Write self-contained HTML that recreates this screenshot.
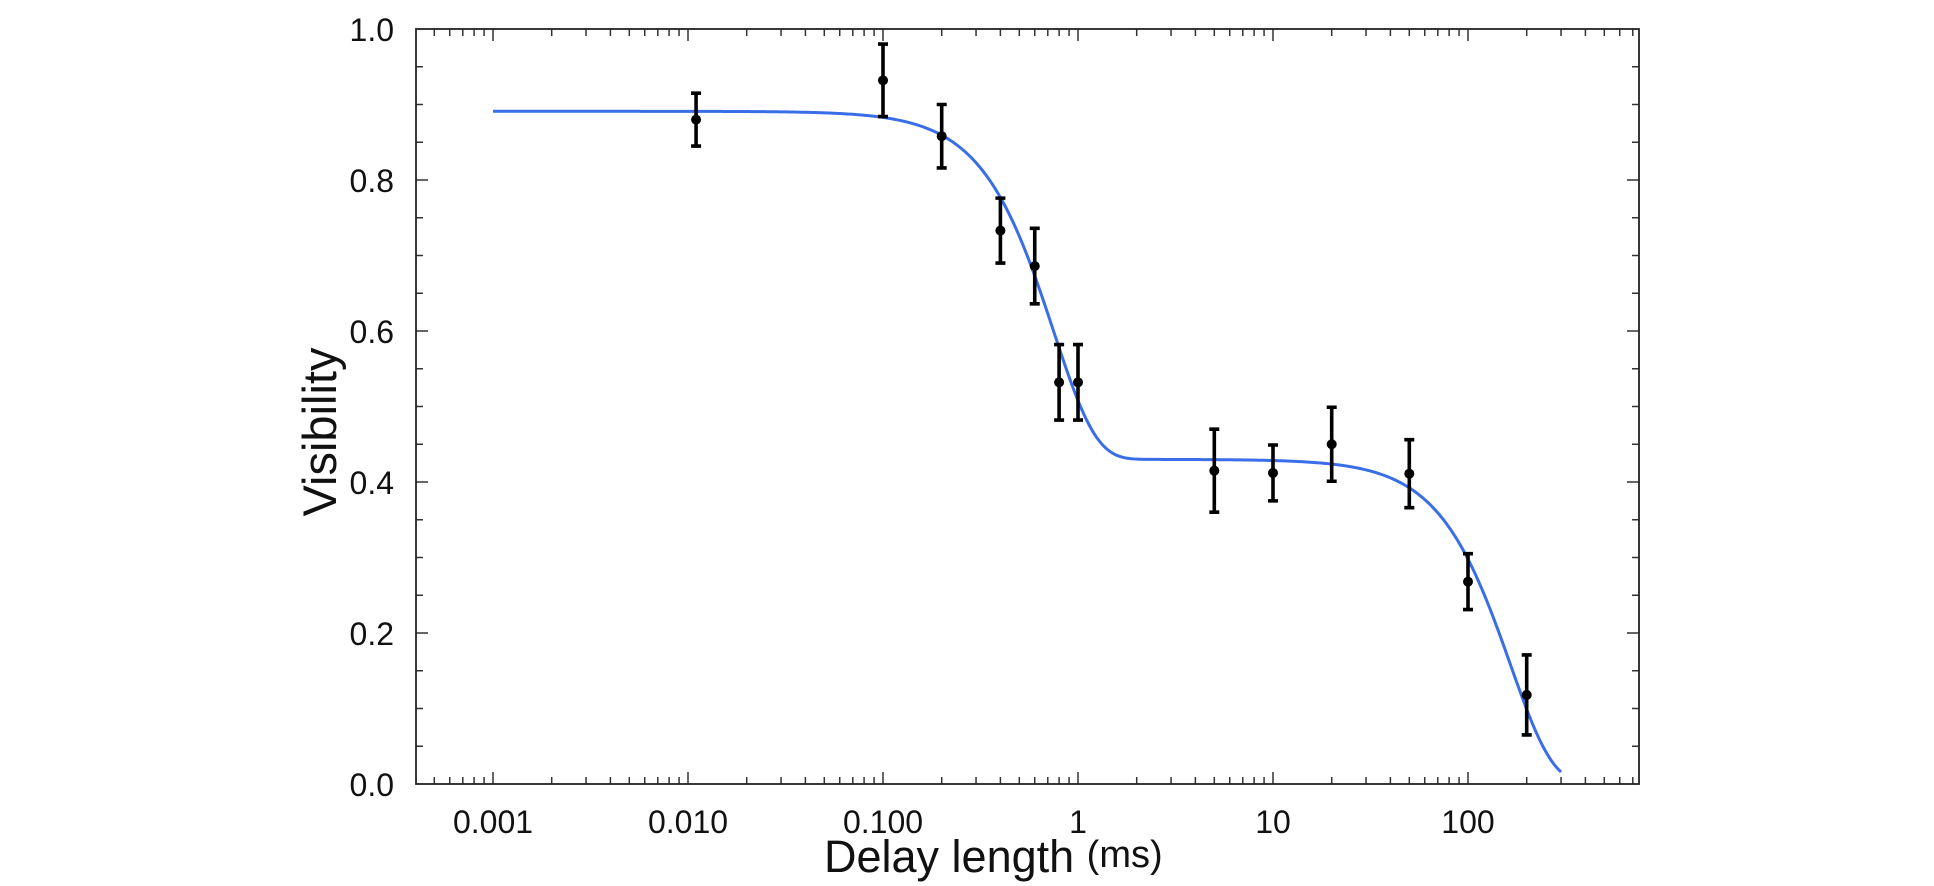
<!DOCTYPE html>
<html><head><meta charset="utf-8"><style>
html,body{margin:0;padding:0;background:#fff;}
svg{display:block;font-family:"Liberation Sans",sans-serif;}
</style></head><body>
<svg id="s" width="1934" height="886" xmlns="http://www.w3.org/2000/svg">
<rect width="1934" height="886" fill="#fff"/>
<g id="ticks" stroke="#333" stroke-width="1.5"></g>
<rect x="416" y="29" width="1223" height="755" fill="none" stroke="#222" stroke-width="1.8"/>
<path id="curve" fill="none" stroke="#3a6ee8" stroke-width="3"/>
<g id="pts" stroke="#000" fill="#000"></g>
<g font-size="32" fill="#111" text-anchor="end">
<text x="394" y="41">1.0</text>
<text x="394" y="192">0.8</text>
<text x="394" y="343">0.6</text>
<text x="394" y="494">0.4</text>
<text x="394" y="645">0.2</text>
<text x="394" y="796">0.0</text>
</g>
<g font-size="32" fill="#111" text-anchor="middle">
<text x="493" y="833">0.001</text>
<text x="688" y="833">0.010</text>
<text x="883" y="833">0.100</text>
<text x="1078" y="833">1</text>
<text x="1273" y="833">10</text>
<text x="1468" y="833">100</text>
</g>
<text x="824" y="872" font-size="45" fill="#111">Delay length <tspan font-size="38" dy="-5">(ms)</tspan></text>
<text transform="translate(336,432) rotate(-90)" font-size="47" fill="#111" text-anchor="middle">Visibility</text>
</svg>
<script>
var NS="http://www.w3.org/2000/svg";
function X(t){return 1078+Math.log10(t)*195;}
function Y(v){return 784-v*755;}
var tk=document.getElementById('ticks'),d="";
for(var e=-4;e<=3;e++){for(var m=1;m<10;m++){var t=m*Math.pow(10,e);var x=X(t);if(x<417||x>1638)continue;var L=(m==1)?12:7;d+="M"+x+" 784V"+(784-L)+"M"+x+" 29V"+(29+L);}}
for(var i=1;i<20;i++){var y=Y(i*0.05);var L=(i%4==0)?12:7;d+="M416 "+y+"H"+(416+L)+"M1639 "+y+"H"+(1639-L);}
var p=document.createElementNS(NS,'path');p.setAttribute('d',d);tk.appendChild(p);
var c="";for(var i=0;i<=600;i++){var lt=-3+i*(Math.log10(300)+3)/600;var t=Math.pow(10,lt);
var v=0.461*Math.exp(-Math.pow(t/0.75,2))+0.43*Math.exp(-Math.pow(t/165,2));c+=(i?"L":"M")+X(t).toFixed(2)+" "+Y(v).toFixed(2);}
document.getElementById('curve').setAttribute('d',c);
var data=[[0.011,0.88,0.035],[0.1,0.932,0.048],[0.2,0.858,0.042],[0.4,0.733,0.043],[0.6,0.686,0.05],[0.8,0.532,0.05],[1,0.532,0.05],[5,0.415,0.055],[10,0.412,0.037],[20,0.45,0.049],[50,0.411,0.045],[100,0.268,0.037],[200,0.118,0.053]];
var g=document.getElementById('pts');
data.forEach(function(a){var x=X(a[0]),y1=Y(a[1]+a[2]),y2=Y(a[1]-a[2]);
var q=document.createElementNS(NS,'path');q.setAttribute('d',"M"+x+" "+y1+"V"+y2+"M"+(x-5)+" "+y1+"H"+(x+5)+"M"+(x-5)+" "+y2+"H"+(x+5));q.setAttribute('stroke-width','3.6');q.setAttribute('fill','none');g.appendChild(q);
var ci=document.createElementNS(NS,'circle');ci.setAttribute('cx',x);ci.setAttribute('cy',Y(a[1]));ci.setAttribute('r','5');ci.setAttribute('stroke','none');g.appendChild(ci);});
</script>
</body></html>
